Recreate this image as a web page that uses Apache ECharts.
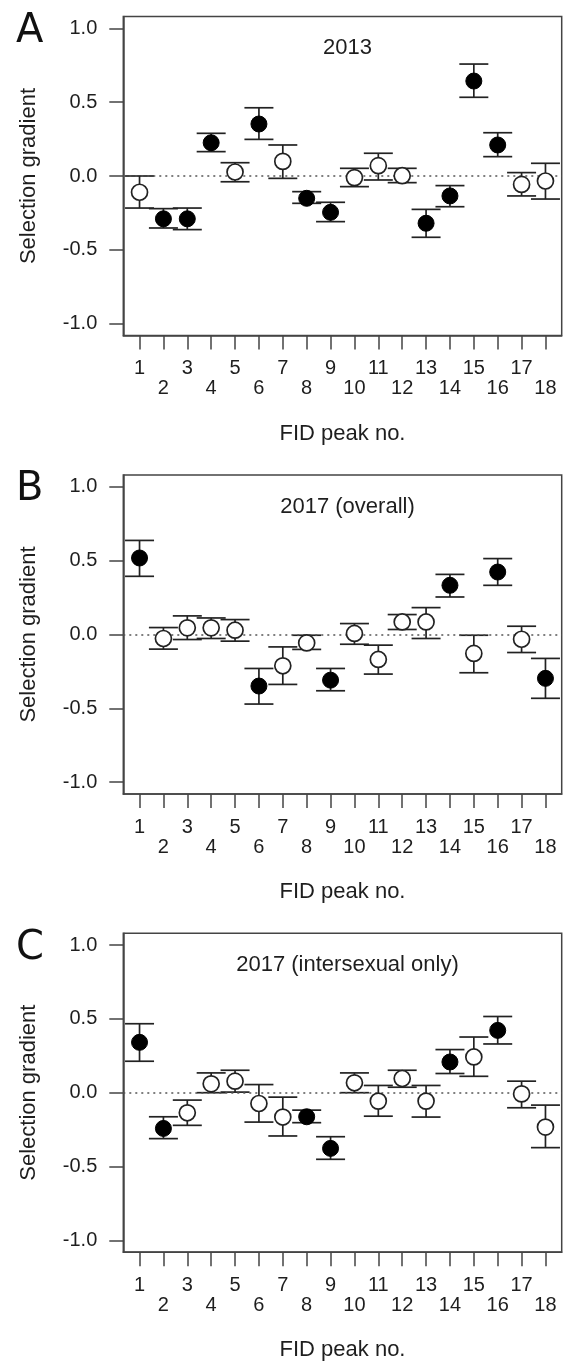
<!DOCTYPE html>
<html><head><meta charset="utf-8">
<script src="https://cdn.jsdelivr.net/npm/echarts@6/dist/echarts.min.js"></script>
<style>html,body{margin:0;padding:0;background:#fff}#c{width:563px;height:1367px}</style>
</head><body><div id="c"></div>
<script>
// FID peak numbers
const peaks = [1,2,3,4,5,6,7,8,9,10,11,12,13,14,15,16,17,18];
const yTicks = [-1, -0.5, 0, 0.5, 1];
const panelLetters = ['A', 'B', 'C'];
const panelTitles = ['2013', '2017 (overall)', '2017 (intersexual only)'];

// Panel A: 2013
const meanA = [-0.11, -0.29, -0.29, 0.225, 0.027, 0.352, 0.099, -0.151, -0.246, -0.011, 0.07, 0.002, -0.32, -0.135, 0.643, 0.21, -0.057, -0.034];
const loA   = [-0.217, -0.352, -0.363, 0.165, -0.039, 0.248, -0.016, -0.185, -0.309, -0.072, -0.027, -0.045, -0.415, -0.208, 0.533, 0.131, -0.135, -0.156];
const hiA   = [0.0, -0.221, -0.217, 0.289, 0.09, 0.462, 0.21, -0.106, -0.178, 0.052, 0.154, 0.052, -0.226, -0.065, 0.758, 0.293, 0.023, 0.086];
const sigA  = [0,1,1,1,0,1,0,1,1,0,0,0,1,1,1,1,0,0];

// Panel B: 2017 (overall)
const meanB = [0.518, -0.027, 0.045, 0.045, 0.029, -0.349, -0.212, -0.057, -0.309, 0.007, -0.169, 0.085, 0.085, 0.333, -0.128, 0.423, -0.032, -0.297];
const loB   = [0.394, -0.099, -0.034, -0.027, -0.045, -0.471, -0.338, -0.101, -0.381, -0.066, -0.268, 0.034, -0.027, 0.254, -0.259, 0.333, -0.122, -0.432];
const hiB   = [0.637, 0.047, 0.126, 0.112, 0.101, -0.23, -0.084, -0.005, -0.23, 0.074, -0.072, 0.135, 0.182, 0.407, -0.005, 0.514, 0.056, -0.162];
const sigB  = [1,0,0,0,0,1,0,0,1,0,0,0,0,1,0,1,0,1];

// Panel C: 2017 (intersexual only)
const meanC = [0.341, -0.242, -0.136, 0.06, 0.078, -0.073, -0.165, -0.163, -0.377, 0.067, -0.057, 0.096, -0.057, 0.208, 0.242, 0.422, -0.008, -0.233];
const loC   = [0.213, -0.311, -0.221, 0.0, 0.004, -0.199, -0.293, -0.203, -0.451, 0.0, -0.159, 0.037, -0.165, 0.13, 0.111, 0.33, -0.102, -0.372];
const hiC   = [0.467, -0.163, -0.05, 0.134, 0.152, 0.055, -0.03, -0.118, -0.298, 0.134, 0.049, 0.152, 0.049, 0.292, 0.377, 0.516, 0.078, -0.084];
const sigC  = [1,1,0,0,0,0,0,1,1,0,0,0,0,1,0,1,0,0];

const panels = [
  {mean: meanA, lo: loA, hi: hiA, sig: sigA},
  {mean: meanB, lo: loB, hi: hiB, sig: sigB},
  {mean: meanC, lo: loC, hi: hiC, sig: sigC}
];

const FONT = '"Liberation Sans", Arial, Helvetica, sans-serif';
const INK = '#1e1e1e';
const gridTops = [16.5, 475, 933.2];
const gridLeft = 123.3, gridW = 438.4, gridH = 319;

const option = {
  backgroundColor: '#fff',
  animation: false,
  title: [],
  grid: [], xAxis: [], yAxis: [], series: []
};

panels.forEach((p, i) => {
  const top = gridTops[i];
  option.grid.push({left: gridLeft, top: top, width: gridW, height: gridH,
    show: true, borderColor: '#444', borderWidth: 1.5, backgroundColor: 'transparent'});
  option.title.push({text: panelTitles[i], left: gridLeft + gridW / 2, top: top + 15.5, textAlign: 'center',
    textStyle: {fontFamily: FONT, fontSize: 22, fontWeight: 'normal', color: INK}});
  option.title.push({text: panelLetters[i], left: 11, top: top - 10,
    textStyle: {fontFamily: '"DejaVu Sans", sans-serif', fontSize: 40, fontWeight: 'normal', color: '#111'}});
  option.xAxis.push({
    type: 'value', gridIndex: i, min: 0.32, max: 18.68,
    name: 'FID peak no.', nameLocation: 'middle', nameGap: 87,
    nameTextStyle: {fontFamily: FONT, fontSize: 22, color: INK},
    axisLine: {show: true, onZero: false, lineStyle: {color: '#444', width: 1.5}},
    axisTick: {show: true, inside: false, customValues: peaks, length: 14, lineStyle: {color: '#444', width: 1.5}},
    axisLabel: {customValues: peaks, fontFamily: FONT, fontSize: 20, color: INK, margin: 23, lineHeight: 20,
      formatter: v => (Math.round(v) % 2 === 1 ? String(Math.round(v)) : '\n' + Math.round(v))},
    splitLine: {show: false}
  });
  option.yAxis.push({
    type: 'value', gridIndex: i, min: -1.08, max: 1.08,
    name: 'Selection gradient', nameLocation: 'middle', nameGap: 83, nameRotate: 90,
    nameTextStyle: {fontFamily: FONT, fontSize: 22, color: INK},
    axisLine: {show: true, onZero: false, lineStyle: {color: '#444', width: 1.5}},
    axisTick: {show: true, inside: false, customValues: yTicks, length: 14, lineStyle: {color: '#444', width: 1.5}},
    axisLabel: {customValues: yTicks, fontFamily: FONT, fontSize: 20, color: INK, margin: 26,
      formatter: v => v.toFixed(1)},
    splitLine: {show: false}
  });
  const ebData = peaks.map((x, k) => [x, p.lo[k], p.hi[k]]);
  option.series.push({
    type: 'custom', xAxisIndex: i, yAxisIndex: i, z: 2,
    data: ebData,
    renderItem: (params, api) => {
      const x = api.value(0);
      const a = api.coord([x, api.value(1)]);
      const b = api.coord([x, api.value(2)]);
      const w = 14.5;
      const st = {stroke: '#222', lineWidth: 1.7};
      return {type: 'group', children: [
        {type: 'line', shape: {x1: a[0], y1: a[1], x2: b[0], y2: b[1]}, style: st},
        {type: 'line', shape: {x1: a[0] - w, y1: a[1], x2: a[0] + w, y2: a[1]}, style: st},
        {type: 'line', shape: {x1: b[0] - w, y1: b[1], x2: b[0] + w, y2: b[1]}, style: st}
      ]};
    },
    markLine: {silent: true, symbol: 'none', label: {show: false},
      lineStyle: {type: [2, 4], color: '#555', width: 1.5}, data: [{yAxis: 0}]}
  });
  option.series.push({
    type: 'scatter', xAxisIndex: i, yAxisIndex: i, z: 5, symbol: 'circle', symbolSize: 16,
    data: peaks.map((x, k) => ({
      value: [x, p.mean[k]],
      itemStyle: p.sig[k] ? {color: '#000', borderColor: '#000', borderWidth: 1, opacity: 1}
                          : {color: '#fff', borderColor: '#222', borderWidth: 1.7, opacity: 1}
    }))
  });
});

const chart = echarts.init(document.getElementById('c'), null, {renderer: 'canvas'});
chart.setOption(option);
</script>
</body></html>
